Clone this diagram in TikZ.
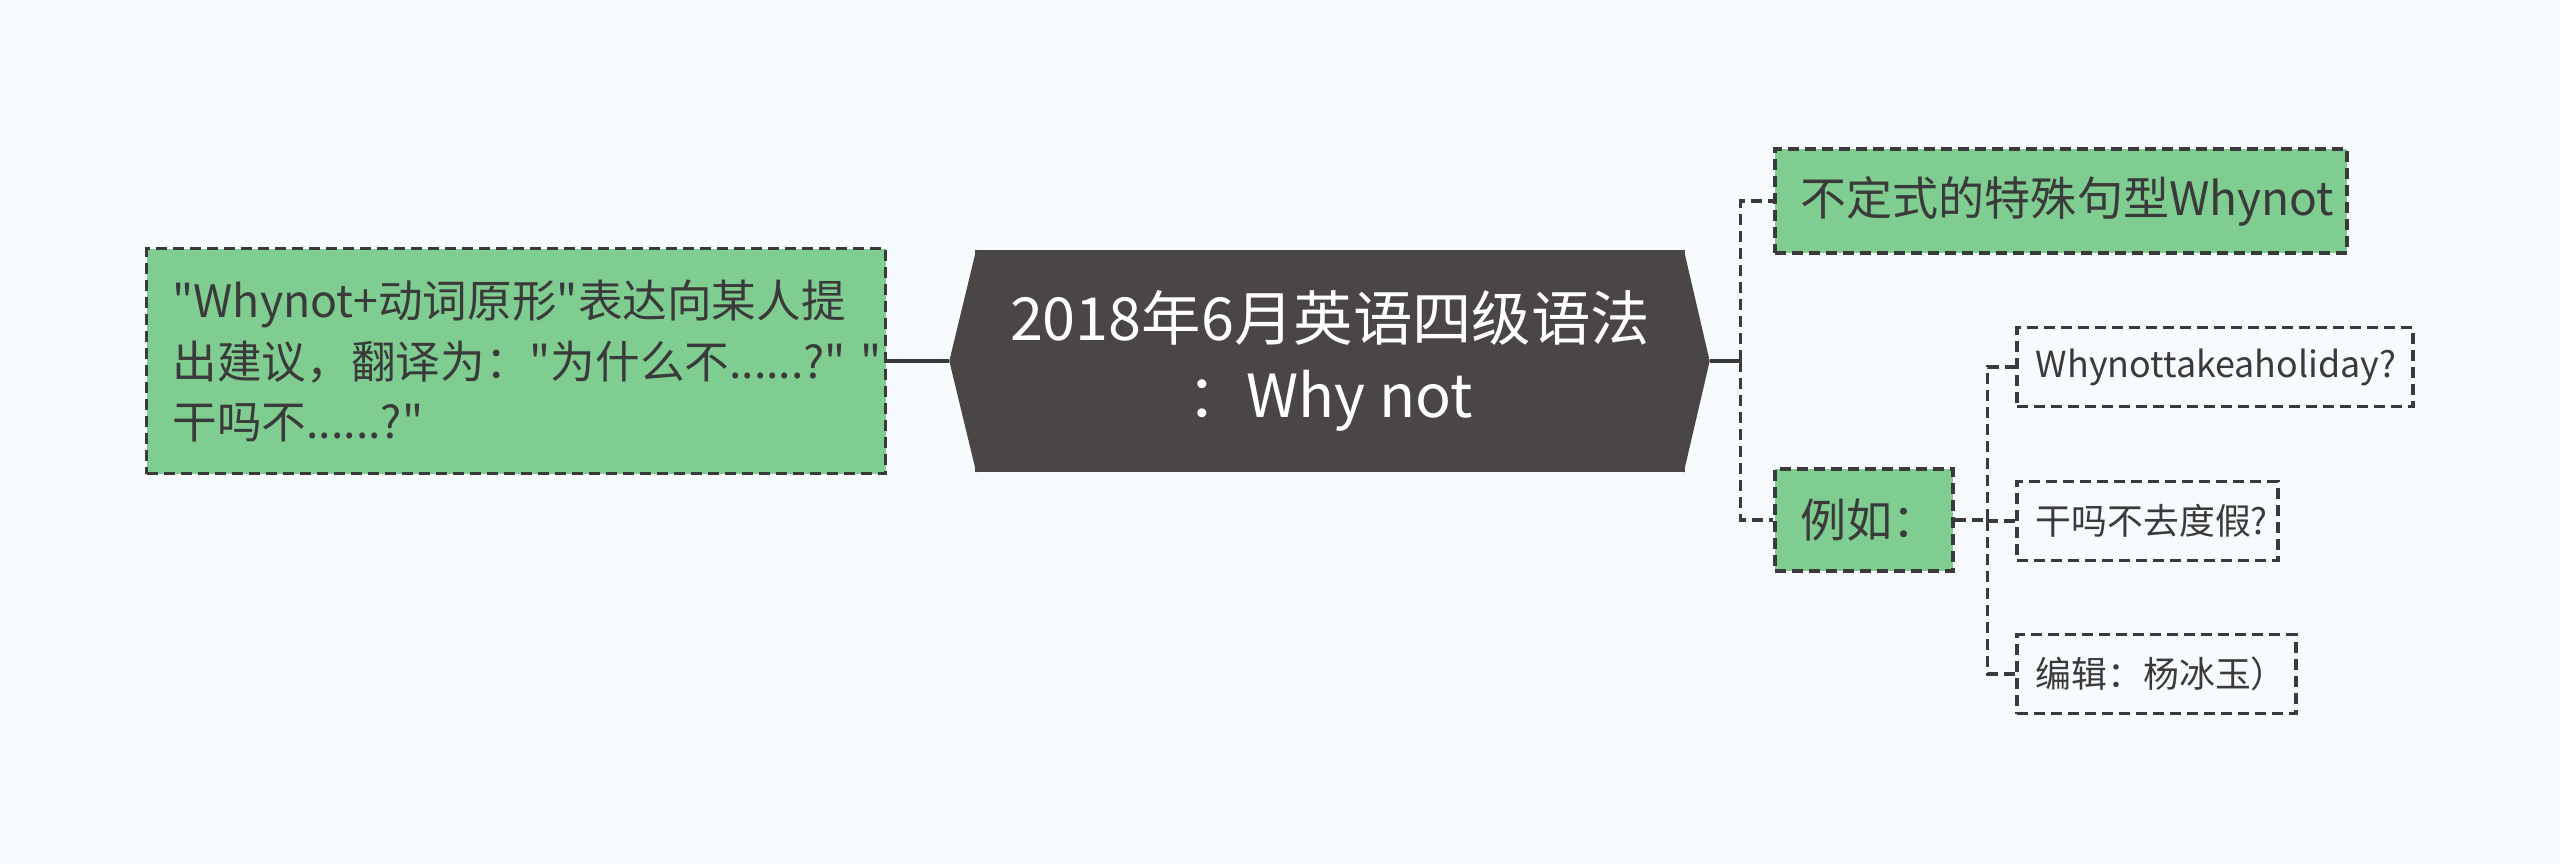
\documentclass[tikz,border=0pt]{standalone}
\usepackage{fontspec}
\setmainfont{Noto Sans CJK SC}[Ligatures = TeXOff]
\usetikzlibrary{positioning}
\definecolor{bgcol}{HTML}{F7FBFD}
\definecolor{leafgreen}{HTML}{80CD91}
\definecolor{hubgray}{HTML}{4B4646}
\definecolor{linegray}{HTML}{3A3A3A}
\tikzset{
  dashline/.style = {draw = linegray, line width = 0.35mm, dash pattern = on 1.1mm off 0.6mm},
  solidline/.style = {draw = linegray, line width = 0.4mm},
  greenbox/.style = {dashline, fill = leafgreen, text = linegray, align = left, inner xsep = 2.6mm,
    font = \fontsize{13.1pt}{17.1pt}\selectfont},
  leafbox/.style = {dashline, text = linegray, align = left, inner xsep = 1.9mm, minimum height = 7.9mm,
    font = \fontsize{10.2pt}{12pt}\selectfont},
}
\begin{document}
\begin{tikzpicture}[x = 0.1mm, y = 0.1mm]
    \fill[bgcol] (0,0) rectangle (2560,864);
    \useasboundingbox (0,0) rectangle (2560,864);
    \node[fill = hubgray, text = white, align = center, minimum width = 71mm, minimum height = 22.2mm,
      font = \fontsize{16.9pt}{21.8pt}\selectfont] (hub) at (1330,503) {2018年6月英语四级语法\\：Why not};
    \fill[hubgray] ([xshift = -0.2mm]hub.north east) -- ([xshift = 2.4mm]hub.east)
      -- ([xshift = -0.2mm]hub.south east) -- cycle;
    \fill[hubgray] ([xshift = 0.2mm]hub.north west) -- ([xshift = -2.5mm]hub.west)
      -- ([xshift = 0.2mm]hub.south west) -- cycle;
    \node[greenbox, left = 8.7mm of hub, text width = 68.7mm, minimum height = 22.5mm,
      font = \fontsize{12.7pt}{17.1pt}\selectfont] (lbox)
      {"Whynot+动词原形"表达向某人提\\出建议，翻译为："为什么不......?"~"\\干吗不......?"};
    \node[greenbox, anchor = west, text width = 52mm, minimum height = 10.4mm] (tbox) at (1773,663)
      {不定式的特殊句型Whynot};
    \node[greenbox, anchor = west, text width = 12.6mm, minimum height = 10.2mm] (ex) at (1773,344)
      {例如：};
    \node[leafbox, anchor = west, text width = 35.8mm] (holiday) at (2015,497) {Whynottakeaholiday?};
    \node[leafbox, anchor = west, text width = 22.3mm] (vacation) at (2015,343) {干吗不去度假?};
    \node[leafbox, anchor = west, text width = 24.1mm] (editor) at (2015,190) {编辑：杨冰玉）};
    \coordinate[right = 5.5mm of hub.east] (j1);
    \coordinate[right = 3.3mm of ex.east] (j2);
    \draw[solidline] ([xshift = -2.5mm]hub.west) -- (lbox.east);
    \draw[solidline] ([xshift = 2.4mm]hub.east) -- (j1);
    \draw[dashline] (j1) |- (tbox.west);
    \draw[dashline] (j1) |- (ex.west);
    \draw[dashline] (ex.east) -- (j2);
    \foreach \leaf in {holiday, vacation, editor}
      \draw[dashline] (j2) |- (\leaf.west);
\end{tikzpicture}
\end{document}
